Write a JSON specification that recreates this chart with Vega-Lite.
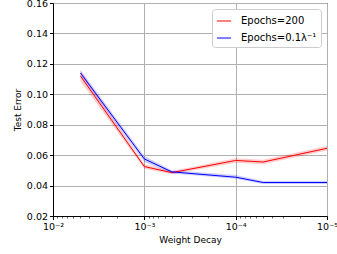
{
  "$schema": "https://vega.github.io/schema/vega-lite/v6.json",
  "width": 274,
  "height": 213,
  "autosize": "none",
  "padding": {"left": 53, "top": 3, "right": 10, "bottom": 38},
  "background": "white",
  "config": {
    "font": "DejaVu Sans",
    "view": {"stroke": "black", "strokeWidth": 1},
    "axis": {
      "domainColor": "black",
      "tickColor": "black",
      "labelColor": "black",
      "titleColor": "black",
      "labelFont": "DejaVu Sans",
      "titleFont": "DejaVu Sans",
      "labelFontSize": 9.5,
      "titleFontSize": 9,
      "titleFontWeight": "normal",
      "gridColor": "#b0b0b0",
      "gridWidth": 1,
      "tickSize": 3.5,
      "labelOverlap": false
    },
    "legend": {
      "labelFont": "DejaVu Sans",
      "labelFontSize": 10,
      "labelColor": "black"
    }
  },
  "data": {
    "values": [
      {"wd": 0.005, "series": "Epochs=200", "err": 0.112, "lo": 0.1085, "hi": 0.1155},
      {"wd": 0.001, "series": "Epochs=200", "err": 0.0525, "lo": 0.051, "hi": 0.054},
      {"wd": 0.0005, "series": "Epochs=200", "err": 0.0485, "lo": 0.0475, "hi": 0.0495},
      {"wd": 0.0001, "series": "Epochs=200", "err": 0.0565, "lo": 0.055, "hi": 0.058},
      {"wd": 0.00005, "series": "Epochs=200", "err": 0.0555, "lo": 0.054, "hi": 0.057},
      {"wd": 0.00001, "series": "Epochs=200", "err": 0.0645, "lo": 0.063, "hi": 0.066},
      {"wd": 0.005, "series": "Epochs=0.1λ⁻¹", "err": 0.114, "lo": 0.112, "hi": 0.116},
      {"wd": 0.001, "series": "Epochs=0.1λ⁻¹", "err": 0.0575, "lo": 0.0555, "hi": 0.0595},
      {"wd": 0.0005, "series": "Epochs=0.1λ⁻¹", "err": 0.049, "lo": 0.048, "hi": 0.050},
      {"wd": 0.0001, "series": "Epochs=0.1λ⁻¹", "err": 0.0455, "lo": 0.0445, "hi": 0.047},
      {"wd": 0.00005, "series": "Epochs=0.1λ⁻¹", "err": 0.042, "lo": 0.041, "hi": 0.043},
      {"wd": 0.00001, "series": "Epochs=0.1λ⁻¹", "err": 0.042, "lo": 0.041, "hi": 0.043}
    ]
  },
  "resolve": {"axis": {"x": "independent"}, "scale": {"color": "independent"}, "legend": {"color": "independent"}},
  "layer": [
    {
      "mark": {"type": "area", "opacity": 0.2},
      "encoding": {
        "x": {
          "field": "wd", "type": "quantitative",
          "scale": {"type": "log", "domain": [0.00001, 0.01], "reverse": true, "nice": false},
          "axis": {
            "orient": "bottom",
            "values": [0.009,0.008,0.007,0.006,0.005,0.004,0.003,0.002,0.0009,0.0008,0.0007,0.0006,0.0005,0.0004,0.0003,0.0002,0.00009,0.00008,0.00007,0.00006,0.00005,0.00004,0.00003,0.00002],
            "labels": false, "grid": false, "title": null, "domain": false, "tickSize": 2, "tickWidth": 0.6
          }
        },
        "y": {
          "field": "lo", "type": "quantitative",
          "scale": {"domain": [0.02, 0.16], "nice": false},
          "axis": {"values": [0.02,0.04,0.06,0.08,0.10,0.12,0.14,0.16], "format": ".2f", "title": "Test Error", "grid": true, "labelOverlap": false}
        },
        "y2": {"field": "hi"},
        "color": {
          "field": "series", "type": "nominal",
          "scale": {"domain": ["Epochs=200", "Epochs=0.1λ⁻¹"], "range": ["#ff0000", "#0000ff"]},
          "legend": null
        }
      }
    },
    {
      "mark": {"type": "line", "strokeWidth": 1},
      "encoding": {
        "x": {
          "field": "wd", "type": "quantitative",
          "scale": {"type": "log", "domain": [0.00001, 0.01], "reverse": true, "nice": false},
          "axis": {
            "orient": "bottom",
            "values": [0.01, 0.001, 0.0001, 0.00001],
            "labelExpr": "datum.value > 0.005 ? '10⁻²' : datum.value > 0.0005 ? '10⁻³' : datum.value > 0.00005 ? '10⁻⁴' : '10⁻⁵'",
            "title": "Weight Decay",
            "grid": true,
            "labelFlush": false
          }
        },
        "y": {
          "field": "err", "type": "quantitative",
          "scale": {"domain": [0.02, 0.16], "nice": false},
          "axis": {"values": [0.02,0.04,0.06,0.08,0.10,0.12,0.14,0.16], "format": ".2f", "title": "Test Error", "grid": true, "labelOverlap": false}
        },
        "color": {
          "field": "series", "type": "nominal",
          "scale": {"domain": ["Epochs=200", "Epochs=0.1λ⁻¹"], "range": ["#ff0000", "#0000ff"]},
          "legend": {
            "title": null,
            "orient": "top-right",
            "symbolType": "stroke",
            "symbolStrokeWidth": 1,
            "symbolSize": 200,
            "symbolOpacity": 1,
            "fillColor": "white",
            "strokeColor": "#cccccc",
            "cornerRadius": 3,
            "padding": 4,
            "offset": 6,
            "rowPadding": 4,
            "labelOffset": 9,
            "encode": {"symbols": {"update": {"stroke": [{"test": "datum.value === 'Epochs=200'", "value": "#ff0000"}, {"value": "#0000ff"}]}}}
          }
        }
      }
    }
  ]
}
